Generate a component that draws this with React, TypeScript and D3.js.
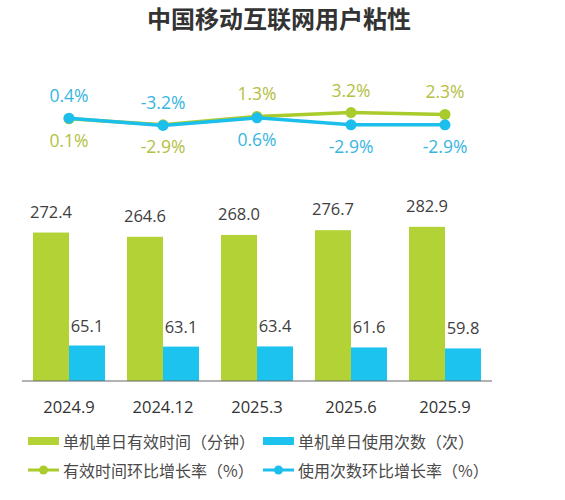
import { line, scaleBand, scaleLinear } from 'd3'

const categories = ['2024.9', '2024.12', '2025.3', '2025.6', '2025.9']
const dailyMinutes = [272.4, 264.6, 268.0, 276.7, 282.9]
const dailyTimes = [65.1, 63.1, 63.4, 61.6, 59.8]
const minutesGrowth = [0.1, -2.9, 1.3, 3.2, 2.3]
const timesGrowth = [0.4, -3.2, 0.6, -2.9, -2.9]
// which side of the point each growth label sits on
const minutesLabelAbove = [false, false, true, true, true]
const timesLabelAbove = [true, true, false, false, false]

const legendBars = ['单机单日有效时间（分钟）', '单机单日使用次数（次）']
const legendLines = ['有效时间环比增长率（%）', '使用次数环比增长率（%）']

const GREEN = '#b2d235'
const BLUE = '#1dc3ef'
const GREEN_LINE = '#a9cb2b'
const BLUE_LINE = '#1cbfec'
const GREEN_TEXT = '#b4c043'
const BLUE_TEXT = '#38b6df'
const FONT = '"Open Sans", "Noto Sans CJK SC", sans-serif'

const W = 565
const H = 500

export default function App() {
  const x = scaleBand<string>().domain(categories).range([22, 492]).paddingInner(0.234).paddingOuter(0.117)
  const inner = scaleBand<number>().domain([0, 1]).range([0, x.bandwidth()])
  const y = scaleLinear().domain([0, 300]).range([381, 217.5])
  const yRate = scaleLinear().domain([-20, 20]).range([159, 79])

  const cx = (c: string) => (x(c) ?? 0) + x.bandwidth() / 2
  const path = line<number>()
    .x((_, i) => cx(categories[i]))
    .y(d => yRate(d))

  const series = [
    { values: minutesGrowth, above: minutesLabelAbove, color: GREEN_LINE, text: GREEN_TEXT },
    { values: timesGrowth, above: timesLabelAbove, color: BLUE_LINE, text: BLUE_TEXT },
  ]

  return (
    <svg width={W} height={H} style={{ position: 'absolute', left: 0, top: 0, background: '#fff' }} fontFamily={FONT}>
      <text x={279} y={28} textAnchor='middle' fontSize={24} fontWeight='bold' fill='#333' fontFamily='"Noto Sans CJK SC", sans-serif'>
        中国移动互联网用户粘性
      </text>

      {/* bars */}
      {categories.map((c, i) => {
        const x0 = x(c) ?? 0
        const bw = inner.bandwidth()
        return (
          <g key={c}>
            <rect x={x0 + (inner(0) ?? 0)} y={y(dailyMinutes[i])} width={bw} height={y(0) - y(dailyMinutes[i])} fill={GREEN} />
            <rect x={x0 + (inner(1) ?? 0)} y={y(dailyTimes[i])} width={bw} height={y(0) - y(dailyTimes[i])} fill={BLUE} />
            <text x={x0 + (inner(0) ?? 0) + bw / 2} y={y(dailyMinutes[i]) - 15} textAnchor='middle' fontSize={16.5} fill='#404040'>
              {dailyMinutes[i].toFixed(1)}
            </text>
            <text x={x0 + (inner(1) ?? 0) + bw / 2} y={y(dailyTimes[i]) - 14} textAnchor='middle' fontSize={16.5} fill='#404040'>
              {dailyTimes[i].toFixed(1)}
            </text>
            <text x={cx(c)} y={413} textAnchor='middle' fontSize={16.5} fill='#333'>
              {c}
            </text>
          </g>
        )
      })}
      <line x1={22} x2={492} y1={y(0)} y2={y(0)} stroke='#666' strokeWidth={1.2} />

      {/* growth lines */}
      {series.map((s, si) => (
        <g key={si}>
          <path d={path(s.values) ?? ''} fill='none' stroke={s.color} strokeWidth={3.5} />
          {s.values.map((v, i) => (
            <circle key={i} cx={cx(categories[i])} cy={yRate(v)} r={5.5} fill={s.color} />
          ))}
        </g>
      ))}
      {series.map((s, si) =>
        s.values.map((v, i) => (
          <text
            key={`${si}-${i}`}
            x={cx(categories[i])}
            y={s.above[i] ? yRate(v) - 16 : yRate(v) + 28}
            textAnchor='middle'
            fontSize={17.5}
            fill={s.text}
          >
            {v.toFixed(1)}%
          </text>
        ))
      )}

      {/* legend */}
      <g fontFamily='"Noto Sans CJK SC", sans-serif' fontSize={16} fill='#4a4a4a'>
        {legendBars.map((t, i) => (
          <g key={t} transform={`translate(${i === 0 ? 28 : 263}, 441)`}>
            <rect x={0} y={-4} width={31} height={8} fill={i === 0 ? GREEN : BLUE} />
            <text x={35} y={0} dominantBaseline='central'>{t}</text>
          </g>
        ))}
        {legendLines.map((t, i) => (
          <g key={t} transform={`translate(${i === 0 ? 28 : 263}, 470)`}>
            <line x1={0} x2={31} y1={0} y2={0} stroke={i === 0 ? GREEN_LINE : BLUE_LINE} strokeWidth={3} />
            <circle cx={15.5} cy={0} r={4.5} fill={i === 0 ? GREEN_LINE : BLUE_LINE} />
            <text x={35} y={0} dominantBaseline='central'>{t}</text>
          </g>
        ))}
      </g>
    </svg>
  )
}
